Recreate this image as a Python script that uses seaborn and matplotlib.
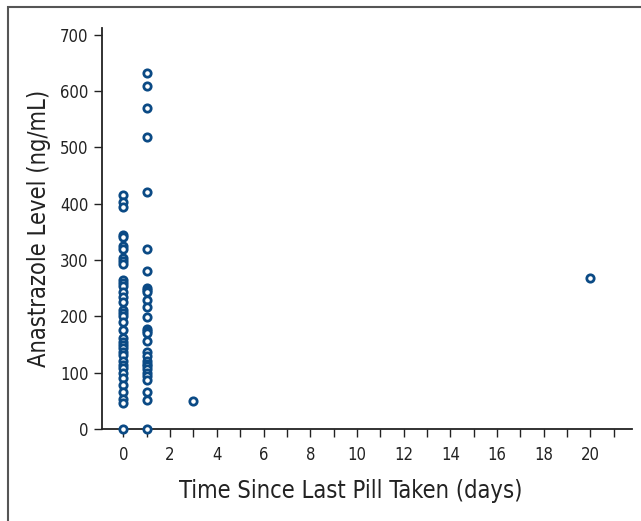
import matplotlib
matplotlib.use("Agg")
import matplotlib.pyplot as plt
import seaborn as sns
import pandas as pd
from matplotlib.patches import Rectangle

# Anastrazole levels, grouped by days since last pill
day0_levels = [415, 402, 394, 345, 340, 325, 320, 304, 298, 292, 265, 259, 253, 244,
               235, 226, 211, 205, 200, 190, 176, 161, 155, 149, 143, 137, 131, 120,
               114, 108, 99, 90, 78, 66, 54, 47, 0]
day1_levels = [632, 608, 570, 519, 421, 319, 280, 250, 246, 243, 229, 216, 198, 178,
               174, 170, 156, 137, 130, 121, 115, 111, 106, 100, 94, 87, 66, 52, 0]
day3_levels = [50]
day20_levels = [268]

days = ([0] * len(day0_levels) + [1] * len(day1_levels)
        + [3] * len(day3_levels) + [20] * len(day20_levels))
levels = day0_levels + day1_levels + day3_levels + day20_levels
df = pd.DataFrame({"days": days, "level": levels})

sns.set_style("ticks")
plt.rcParams['font.family'] = ['DejaVu Sans']
plt.rcParams['font.stretch'] = 'condensed'

fig = plt.figure(figsize=(6.41, 5.21), dpi=100)
ax = fig.add_axes([0.159, 0.1766, 0.827, 0.770])

sns.scatterplot(data=df, x="days", y="level", ax=ax, marker="o", s=28,
                facecolor="white", edgecolor="#0b4a85", linewidth=2, clip_on=False,
                zorder=5)

ax.set_xlim(-0.92, 21.78)
ax.set_ylim(0, 712)
ax.set_xticks(range(0, 21, 2))
ax.set_xticks(range(0, 22), minor=True)
ax.set_yticks(range(0, 701, 100))
ax.tick_params(axis="both", which="both", direction="out", length=6, width=1,
               color="#222222", labelsize=12, labelcolor="#222222")
ax.tick_params(axis="x", pad=6)
sns.despine(ax=ax)
for sp in ["left", "bottom"]:
    ax.spines[sp].set_linewidth(1.3)
    ax.spines[sp].set_color("#222222")

ax.set_xlabel("Time Since Last Pill Taken (days)", fontsize=17, color="#222222")
ax.xaxis.set_label_coords(0.47, -0.125)
ax.set_ylabel("Anastrazole Level (ng/mL)", fontsize=17, labelpad=7, color="#222222")

# outer panel frame (top and left edges visible)
fig.patches.append(Rectangle((8 / 641, -0.2), 1.5, 1.2 - 7 / 521,
                             transform=fig.transFigure, fill=False,
                             edgecolor="#555555", linewidth=1.5))

fig.savefig("out.png", dpi=100)
